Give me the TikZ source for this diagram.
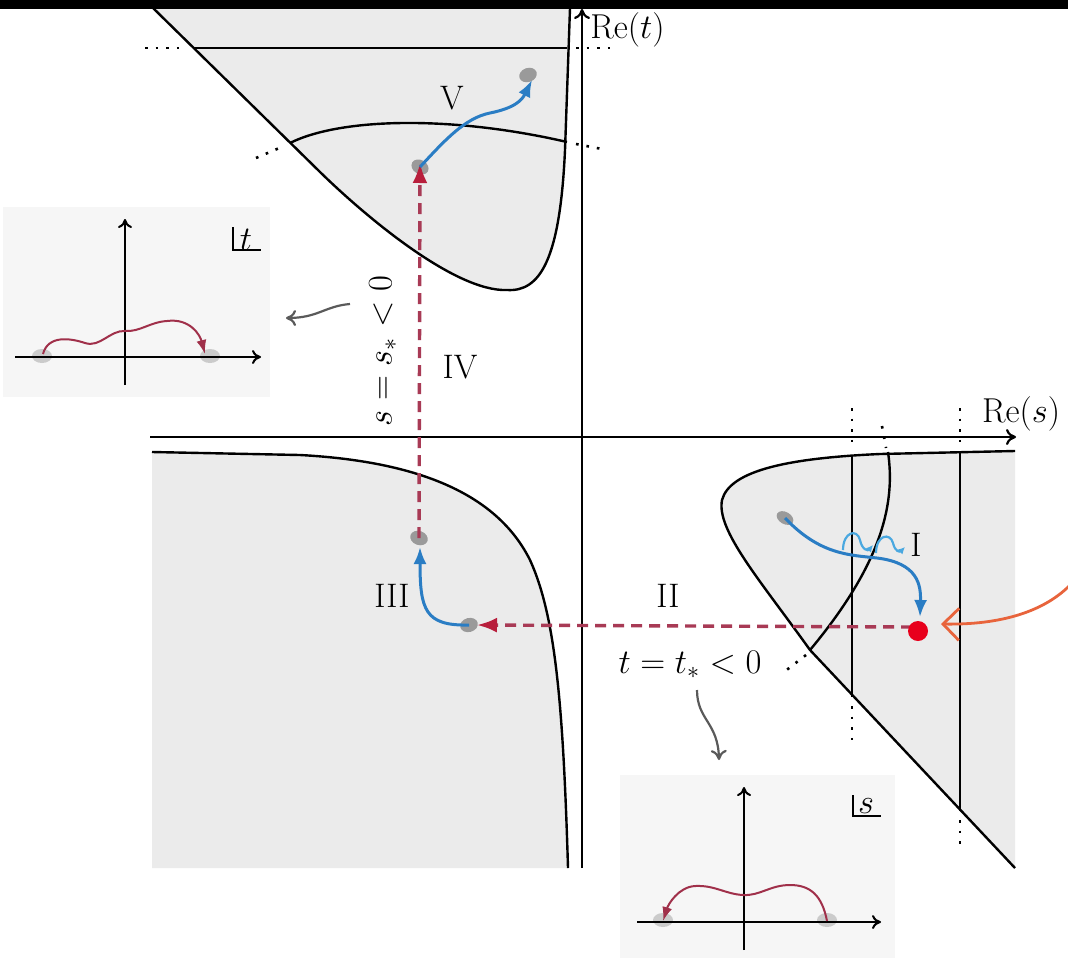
\documentclass[tikz,border=0pt]{standalone}
\usetikzlibrary{arrows.meta}
\definecolor{regfill}{HTML}{EBEBEB}
\definecolor{insetfill}{HTML}{F6F6F6}
\definecolor{pathblue}{HTML}{2A7DC4}
\definecolor{lightblue}{HTML}{4AA8E0}
\definecolor{dashred}{HTML}{A83A55}
\definecolor{tipred}{HTML}{B81E3C}
\definecolor{dotred}{HTML}{E8001C}
\definecolor{orangered}{HTML}{E8643C}
\definecolor{blobgray}{HTML}{9A9A9A}
\definecolor{lightblob}{HTML}{CBCBCB}
\definecolor{pointergray}{HTML}{5A5A5A}
\definecolor{insetred}{HTML}{A0304A}
\begin{document}
\begin{tikzpicture}[x=0.5pt,y=-0.5pt,
  every node/.style={font=\fontsize{17}{20}\selectfont, inner sep=0pt},
  curve/.style={line width=1.2pt, black},
  axisline/.style={line width=1.1pt, -{To[length=5pt,width=8pt]}},
  dots/.style={line width=1.3pt, dash pattern=on 1.3pt off 4pt},
  redpath/.style={dashred, line width=1.7pt, dash pattern=on 5.5pt off 3.5pt,
    -{Latex[length=10pt,width=7.5pt,color=tipred]}},
  bluepath/.style={pathblue, line width=1.5pt, -{Latex[length=8.5pt,width=6.5pt]}},
  wiggle/.style={lightblue, line width=1.1pt, -{Latex[length=3.5pt,width=3.5pt]}},
  blob/.style={fill=blobgray, draw=none},
  iblob/.style={fill=lightblob, draw=none},
  insetcurve/.style={insetred, line width=1pt, -{Latex[length=7pt,width=5pt]}},
  insetaxis/.style={line width=1pt, -{To[length=4.5pt,width=7pt]}},
  pointer/.style={pointergray, line width=1.1pt, -{To[length=5pt,width=8pt]}},
  corner/.style={line width=0.9pt}]
\useasboundingbox (0,0) rectangle (1068,963);

% ---------- shaded regions ----------
% region V (top)
\fill[regfill] (153,8) -- (320,172) .. controls (365,216) and (455,292) .. (507,290)
  .. controls (540,292) and (560,260) .. (565,150) -- (570,8) -- cycle;
\draw[curve] (153,8) -- (320,172) .. controls (365,216) and (455,292) .. (507,290)
  .. controls (540,292) and (560,260) .. (565,150) -- (570,8);
\draw[curve] (193,48) -- (567,48);
\draw[dots] (145,48) -- (186,48);
\draw[dots] (576,48) -- (612,48);
\draw[curve] (290,143) .. controls (340,118) and (450,115) .. (567,142);
\draw[dots] (256,158) -- (284,146);
\draw[dots] (576,144) -- (602,149);

% region III (lower left)
\fill[regfill] (152,452) -- (300,455) .. controls (430,462) and (500,500) .. (530,560)
  .. controls (555,615) and (563,700) .. (568,868) -- (152,868) -- cycle;
\draw[curve] (152,452) -- (300,455) .. controls (430,462) and (500,500) .. (530,560)
  .. controls (555,615) and (563,700) .. (568,868);

% region I (right)
\fill[regfill] (1015,451) -- (880,454) .. controls (790,458) and (730,470) .. (722,500)
  .. controls (716,530) and (760,580) .. (810,650) -- (1015,868) -- cycle;
\draw[curve] (1015,451) -- (880,454) .. controls (790,458) and (730,470) .. (722,500)
  .. controls (716,530) and (760,580) .. (810,650) -- (1015,868);
\draw[curve] (852,456) -- (852,697);
\draw[curve] (960,452) -- (960,811);
\draw[curve] (888,452) .. controls (895,500) and (885,560) .. (810,650);
\draw[dots] (852,408) -- (852,450);
\draw[dots] (852,706) -- (852,742);
\draw[dots] (960,408) -- (960,448);
\draw[dots] (960,820) -- (960,848);
\draw[dots] (882,426) -- (886,448);
\draw[dots] (806,655) -- (784,672);

% ---------- axes ----------
\draw[axisline] (582,868) -- (582,9);
\node[anchor=north west] (ret) at (590,12) {$\mathrm{Re}(t)$};
\draw[axisline] (150,437) -- (1016,437);
\node[anchor=base] (res) at (1021,422) {$\mathrm{Re}(s)$};

% ---------- path points ----------
\coordinate (bV1) at (420,167);
\coordinate (bV2) at (528,75);
\coordinate (bIII) at (419,538);
\coordinate (bII) at (469,625);
\coordinate (bI) at (785,518);
\coordinate (dot) at (918,631);
\coordinate (dotTop) at (920,617);
\coordinate (dashStart) at (912,627);
\coordinate (v2tip) at (532,80);
\coordinate (iiitip) at (420,547);

\fill[blob, rotate around={-30:(bV1)}] (bV1) ellipse [x radius=4.5pt, y radius=3.5pt];
\fill[blob, rotate around={20:(bV2)}] (bV2) ellipse [x radius=4.5pt, y radius=3.5pt];
\fill[blob, rotate around={-20:(bIII)}] (bIII) ellipse [x radius=4.5pt, y radius=3.5pt];
\fill[blob, rotate around={15:(bII)}] (bII) ellipse [x radius=4.5pt, y radius=3.5pt];
\fill[blob, rotate around={-30:(bI)}] (bI) ellipse [x radius=4.5pt, y radius=3pt];

% dashed red connectors
\draw[redpath] (bIII) -- ([yshift=2pt]bV1);
\draw[redpath] (dashStart) -- ([xshift=4pt]bII);

% blue paths
\draw[bluepath] (bI) .. controls (820,555) and (850,555) .. (877,558)
  .. controls (918,563) and (921,585) .. (dotTop);
\draw[bluepath] (bII) .. controls (425,626) and (420,610) .. (iiitip);
\draw[bluepath] (bV1) .. controls (445,140) and (465,118) .. (490,113)
  .. controls (515,108) and (522,100) .. (v2tip);

% small wiggles
\draw[wiggle] (843,550) .. controls (843,532) and (857,528) .. (860,540)
  .. controls (862,550) and (868,551) .. (873,545);
\draw[wiggle] (876,553) .. controls (876,535) and (890,532) .. (893,543)
  .. controls (895,552) and (900,552) .. (905,547);

% red dot
\fill[dotred] (dot) circle[radius=5pt];

% orange pointer
\coordinate (orangeStart) at (1072,583);
\coordinate (orangeTip) at (941,624);
\draw[orangered, line width=1.4pt, -{Straight Barb[length=8pt,width=16pt]}]
  (orangeStart) .. controls (1045,612) and (1000,625) .. (orangeTip);

% ---------- labels ----------
\node (lV) at (452,98) {V};
\node (lI) at (916,545) {I};
\node (lII) at (668,596) {II};
\node (lIII) at (392,596) {III};
\node (lIV) at (460,367) {IV};
\node[rotate=90] (lss) at (383,351) {$s = s_* < 0$};
\node[anchor=base] (ltt) at (690,673) {$t = t_* < 0$};

% ---------- t inset ----------
\fill[insetfill] (3,207) rectangle (270,397);
\fill[iblob] (42,356) ellipse [x radius=5pt, y radius=3.5pt];
\fill[iblob] (210,356) ellipse [x radius=5pt, y radius=3.5pt];
\draw[insetaxis] (15,357) -- (261,357);
\draw[insetaxis] (125,385) -- (125,219);
\draw[insetcurve] (43,354) .. controls (48,335) and (70,338) .. (85,343)
  .. controls (100,348) and (110,330) .. (125,331)
  .. controls (140,332) and (150,322) .. (167,321)
  .. controls (190,318) and (200,335) .. (205,354);
\node (tlab) at (246,240) {$t$};
\draw[corner] (233,227) -- (233,250) -- (261,250);
\coordinate (tpStart) at (350,304);
\coordinate (tpTip) at (286,318);
\draw[pointer] (tpStart) .. controls (325,306) and (318,318) .. (tpTip);

% ---------- s inset ----------
\fill[insetfill] (620,775) rectangle (895,958);
\fill[iblob] (663,920) ellipse [x radius=5pt, y radius=3.5pt];
\fill[iblob] (827,920) ellipse [x radius=5pt, y radius=3.5pt];
\draw[insetaxis] (637,922) -- (881,922);
\draw[insetaxis] (744,950) -- (744,787);
\draw[insetcurve] (827,921) .. controls (822,895) and (810,885) .. (790,885)
  .. controls (770,885) and (760,896) .. (743,895)
  .. controls (725,894) and (715,885) .. (695,886)
  .. controls (678,887) and (668,905) .. (663,921);
\node (slab) at (866,806) {$s$};
\draw[corner] (853,795) -- (853,816) -- (881,816);
\coordinate (spStart) at (697,690);
\coordinate (spTip) at (719,760);
\draw[pointer] (spStart) .. controls (697,720) and (718,722) .. (spTip);

% top black bar
\fill[black] (0,0) rectangle (1068,9);
\end{tikzpicture}
\end{document}
